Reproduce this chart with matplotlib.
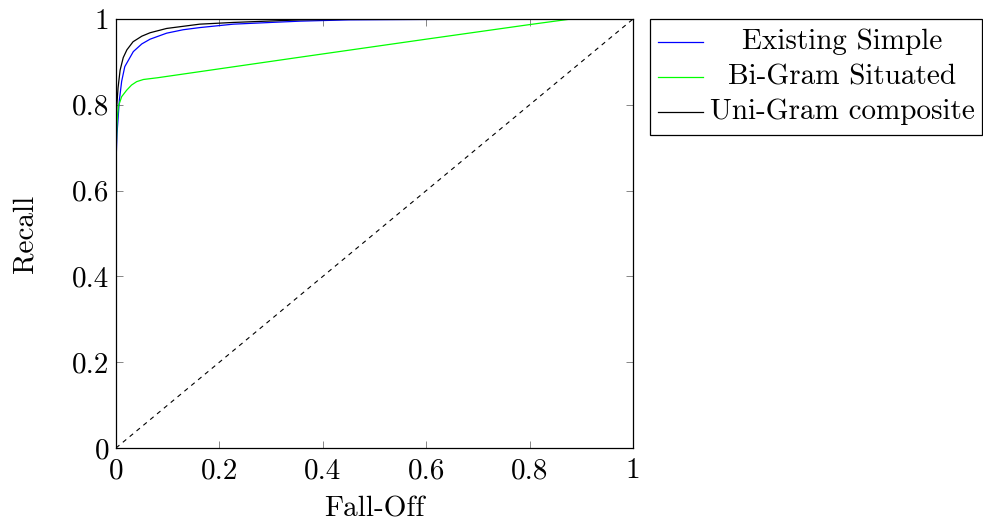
import matplotlib.pyplot as plt
from matplotlib.lines import Line2D
from matplotlib.patches import Rectangle

plt.rcParams['font.family'] = 'cmr10'
plt.rcParams['axes.formatter.use_mathtext'] = True
plt.rcParams['font.size'] = 21

# ROC-style curves: fall-off (x) vs recall (y)
existing_x = [0, 0.002, 0.0065, 0.011, 0.017, 0.0335, 0.05, 0.066, 0.098, 0.13,
              0.162, 0.227, 0.3, 0.356, 0.45, 0.6, 0.8, 1.0]
existing_y = [0.665, 0.733, 0.811, 0.855, 0.889, 0.924, 0.942, 0.953, 0.967, 0.975,
              0.980, 0.988, 0.992, 0.995, 0.998, 0.999, 1.0, 1.0]

bigram_x = [0, 0.002, 0.0045, 0.011, 0.0206, 0.030, 0.040, 0.053, 0.08, 0.356,
            0.6, 0.8, 0.88, 1.0]
bigram_y = [0.679, 0.76, 0.796, 0.819, 0.834, 0.846, 0.854, 0.859, 0.863, 0.911,
            0.953, 0.987, 1.0, 1.0]

unigram_x = [0, 0.001, 0.004, 0.008, 0.014, 0.021, 0.033, 0.05, 0.066, 0.098,
             0.162, 0.227, 0.356, 0.5, 1.0]
unigram_y = [0.72, 0.788, 0.84, 0.881, 0.91, 0.928, 0.947, 0.96, 0.968, 0.978,
             0.988, 0.992, 0.998, 1.0, 1.0]

labels = ['Existing Simple', 'Bi-Gram Situated', 'Uni-Gram composite']
colors = ['#0000ff', '#00ff00', '#000000']

ticks = [0, 0.2, 0.4, 0.6, 0.8, 1]
tick_labels = ['0', '0.2', '0.4', '0.6', '0.8', '1']

fig = plt.figure(figsize=(9.83, 5.25), dpi=100)
ax = fig.add_axes([0.118, 0.1467, 0.526, 0.8171])

series = [(existing_x, existing_y), (bigram_x, bigram_y), (unigram_x, unigram_y)]
for (xs, ys), c in zip(series, colors):
    ax.plot(xs, ys, color=c, lw=0.9)

# chance diagonal
ax.plot([0, 1], [0, 1], color='black', lw=0.8, linestyle=(0, (4, 4)))

ax.set_xlim(0, 1)
ax.set_ylim(0, 1)
ax.set_xticks(ticks)
ax.set_xticklabels(tick_labels)
ax.set_yticks(ticks)
ax.set_yticklabels(tick_labels)
ax.tick_params(direction='in', length=5, width=0.6, color='0.45',
               top=True, right=True, pad=5)
ax.tick_params(axis='x', pad=7)
for s in ax.spines.values():
    s.set_linewidth(0.9)
ax.set_xlabel('Fall-Off', labelpad=9)
ax.set_ylabel('Recall', labelpad=24)

# legend box drawn outside the axes with centred entries
W, H = 983.0, 525.0
fig.patches.append(Rectangle((650 / W, 1 - 135 / H), 332 / W, 116 / H,
                             transform=fig.transFigure, fill=False,
                             edgecolor='black', lw=0.9))
for i, (lab, c) in enumerate(zip(labels, colors)):
    yy = 1 - (42 + 35 * i) / H
    fig.lines.append(Line2D([658 / W, 703 / W], [yy, yy], color=c, lw=0.9,
                            transform=fig.transFigure))
    fig.text(842 / W, yy, lab, ha='center', va='center')

fig.savefig('out.png', dpi=100)
